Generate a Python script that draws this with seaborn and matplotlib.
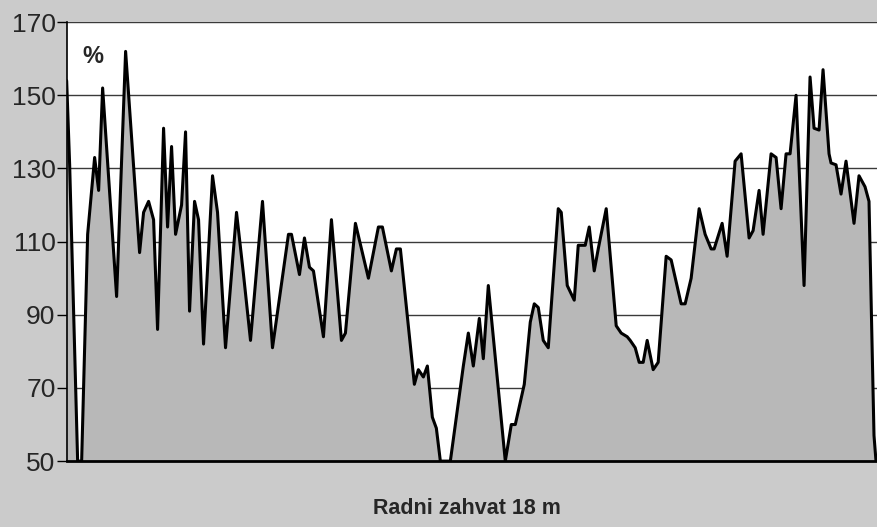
"""Radni zahvat 18 m - profil raspodjele (%)."""
import matplotlib
matplotlib.use("Agg")
import matplotlib.pyplot as plt
import seaborn as sns

# pozicija uzduz radnog zahvata (proizvoljne jedinice) i izmjerena vrijednost u %
pozicija = [0, 3, 11, 15, 21, 28, 32, 36, 50, 59, 73, 77, 82, 87, 91, 97, 101, 105,
            109, 115, 119, 123, 128, 132, 137, 146, 151, 159, 170, 177, 184, 196,
            206, 222, 225, 233, 238, 243, 247, 257, 265, 275, 279, 289, 302, 312,
            316, 325, 330, 334, 348, 352, 357, 361, 366, 370, 374, 384, 397, 402,
            407, 413, 417, 422, 439, 445, 449, 458, 464, 468, 472, 477, 482, 492,
            495, 501, 508, 512, 519, 523, 528, 532, 540, 550, 555, 561, 564, 569,
            573, 577, 581, 587, 592, 600, 605, 610, 615, 619, 625, 633, 639, 645,
            648, 656, 661, 669, 675, 683, 687, 693, 697, 705, 710, 715, 720, 724,
            730, 738, 744, 748, 753, 757, 763, 765, 770, 775, 780, 788, 793, 799,
            803, 808, 810]
postotak = [154, 131, 50, 50, 112, 133, 124, 152, 95, 162, 107, 118, 121, 116, 86,
            141, 114, 136, 112, 120, 140, 91, 121, 116, 82, 128, 118, 81, 118, 101,
            83, 121, 81, 112, 112, 101, 111, 103, 102, 84, 116, 83, 85, 115, 100,
            114, 114, 102, 108, 108, 71, 75, 73, 76, 62, 59, 50, 50, 76, 85, 76, 89,
            78, 98, 50, 60, 60, 71, 88, 93, 92, 83, 81, 119, 118, 98, 94, 109, 109,
            114, 102, 108, 119, 87, 85, 84, 83, 81, 77, 77, 83, 75, 77, 106, 105, 99,
            93, 93, 100, 119, 112, 108, 108, 115, 106, 132, 134, 111, 113, 124, 112,
            134, 133, 119, 134, 134, 150, 98, 155, 141, 140.5, 157, 134, 131.5, 131,
            123, 132, 115, 128, 125, 121, 57, 50]

y_ticks = [50, 70, 90, 110, 130, 150, 170]

sns.set_style("white")
plt.rcParams['font.family'] = ['Liberation Sans', 'DejaVu Sans']

fig = plt.figure(figsize=(8.77, 5.27), dpi=100, facecolor='#cbcbcb')
ax = fig.add_axes([0.076, 0.125, 0.924, 0.833])
ax.set_facecolor('white')

# mreza iza povrsine
ax.set_axisbelow(True)
ax.yaxis.grid(True, color='#3a3a3a', linewidth=1.0)
ax.xaxis.grid(False)

ax.fill_between(pozicija, 50, postotak, color='#b8b8b8', zorder=2, linewidth=0)
sns.lineplot(x=pozicija, y=postotak, color='black', linewidth=2.2, ax=ax,
             zorder=3, sort=False)

ax.set_xlim(0, 811)
ax.set_ylim(50, 170)
ax.set_yticks(y_ticks)
ax.set_xticks([])
ax.tick_params(axis='y', direction='out', length=7, width=1, color='black',
               labelsize=19, left=True, pad=1)
ax.set_xlabel('')
ax.set_ylabel('')

for side in ['top', 'right']:
    ax.spines[side].set_visible(False)
ax.spines['left'].set_color('black')
ax.spines['left'].set_linewidth(1.2)
ax.spines['bottom'].set_color('black')
ax.spines['bottom'].set_linewidth(2.0)
ax.spines['left'].set_zorder(4)
ax.spines['bottom'].set_zorder(4)

ax.text(0.02, 0.922, '%', transform=ax.transAxes, fontsize=17,
        fontweight='bold', ha='left', va='center')

fig.text(0.532, 0.036, 'Radni zahvat 18 m', fontsize=15.5, fontweight='bold',
         ha='center', va='center')

fig.savefig('out.png', dpi=100, facecolor=fig.get_facecolor())
